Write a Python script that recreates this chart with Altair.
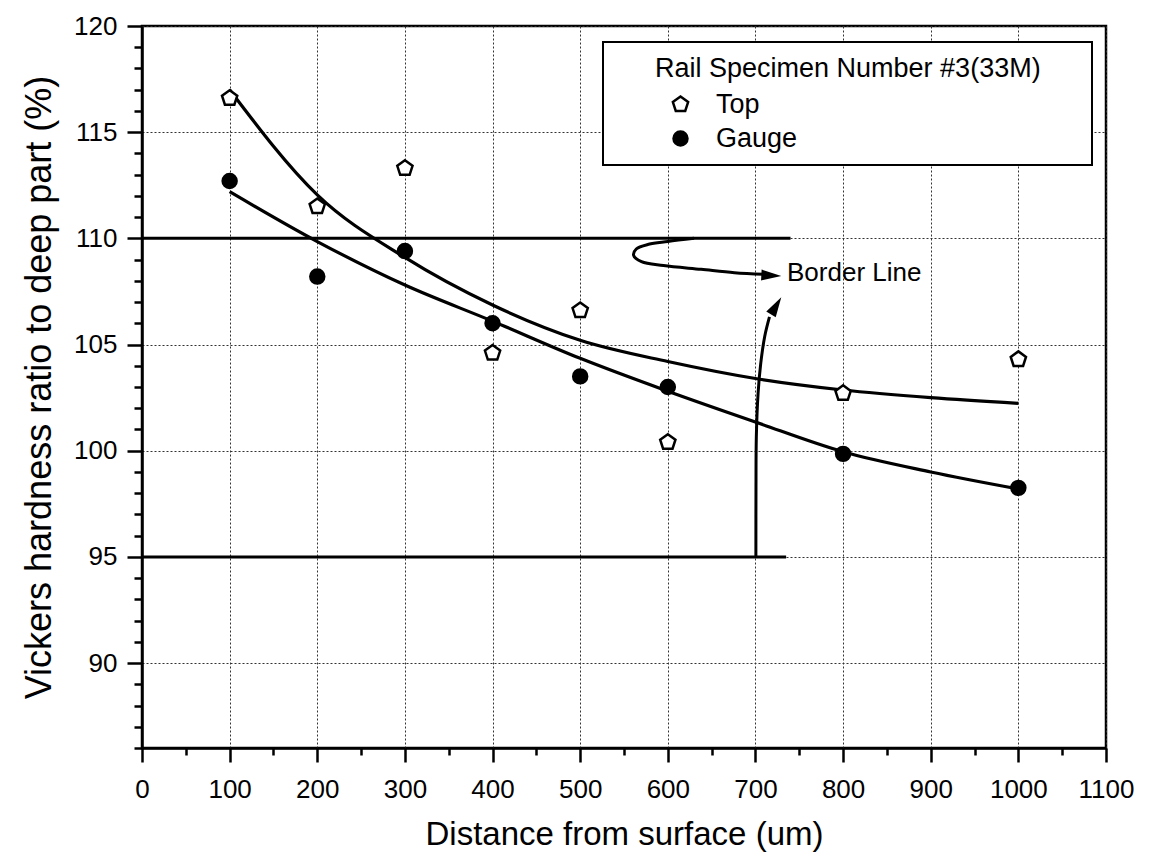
import altair as alt
import pandas as pd

# ---- data ----
depth = [100, 200, 300, 400, 500, 600, 800, 1000]
top_vals = [116.6, 111.5, 113.3, 104.6, 106.6, 100.4, 102.7, 104.3]
gauge_vals = [112.7, 108.2, 109.4, 106.0, 103.5, 103.0, 99.85, 98.25]

fit_x = [100, 200, 300, 400, 500, 600, 700, 800, 900, 1000]
top_fit = [117.0, 112.05, 109.1, 106.86, 105.2, 104.2, 103.4, 102.86, 102.5, 102.23]
gauge_fit = [112.2, 109.85, 107.8, 106.1, 104.35, 102.8, 101.35, 99.95, 99.0, 98.2]

border_levels = [110, 95]
border_end = [740, 735]

loop_x = [630, 600, 578, 564, 561, 570, 595, 638, 676, 712]
loop_y = [110, 109.85, 109.72, 109.5, 109.2, 108.9, 108.72, 108.54, 108.38, 108.3]
rise_x = [700.5, 700.6, 701, 703, 706, 710.5, 716]
rise_y = [95, 98.3, 100.66, 102.7, 104.1, 105.37, 106.3]
head_x = [718.1, 723.6]
head_y = [108.25, 106.82]
head_angle = [3, 301]

note_text = ["Border Line"]
note_x = [736]
note_y = [108.35]

series_names = ["Top", "Gauge"]
legend_title = "Rail Specimen Number #3(33M)"

FONT = "Liberation Sans"
PENTAGON = "M0,-1.15L1.094,-0.355L0.676,0.93L-0.676,0.93L-1.094,-0.355Z"
ARROW = "M1,0L-1,-0.55L-1,0.55Z"

# ---- tables ----
pts = pd.DataFrame({
    "x": depth * 2,
    "y": top_vals + gauge_vals,
    "series": ["Top"] * len(depth) + ["Gauge"] * len(depth),
})
fits = pd.DataFrame({
    "x": fit_x * 2,
    "y": top_fit + gauge_fit,
    "series": ["Top"] * len(fit_x) + ["Gauge"] * len(fit_x),
})
borders = pd.DataFrame({"x": [0, 0], "x2": border_end, "y": border_levels})
loop = pd.DataFrame({"x": loop_x, "y": loop_y, "o": list(range(len(loop_x)))})
rise = pd.DataFrame({"x": rise_x, "y": rise_y, "o": list(range(len(rise_x)))})
heads = pd.DataFrame({"x": head_x, "y": head_y, "a": head_angle})
notes = pd.DataFrame({"x": note_x, "y": note_y, "t": note_text})

xs = alt.Scale(domain=[0, 1100], nice=False, zero=False)
ys = alt.Scale(domain=[86, 120], nice=False, zero=False)

x_axis = alt.Axis(
    values=list(range(0, 1101, 50)),
    format="d",
    labelExpr="datum.value % 100 == 0 ? datum.label : ''",
    labelOverlap=False,
    labelFlush=False,
    labelFontSize=26,
    tickSize={"condition": {"test": "datum.value % 100 == 0", "value": 14}, "value": 7},
    gridOpacity={"condition": {"test": "datum.value % 100 == 0", "value": 1}, "value": 0},
    title="Distance from surface (um)",
    titleFontSize=33,
    labelPadding=14,
    titlePadding=16,
)
y_axis = alt.Axis(
    values=list(range(86, 121, 1)),
    format="d",
    labelExpr="datum.value % 5 == 0 ? datum.label : ''",
    labelOverlap=False,
    labelFlush=False,
    labelFontSize=26,
    tickSize={"condition": {"test": "datum.value % 5 == 0", "value": 15}, "value": 8},
    gridOpacity={"condition": {"test": "datum.value % 5 == 0", "value": 1}, "value": 0},
    title="Vickers hardness ratio to deep part (%)",
    titleFontSize=36,
    labelPadding=10,
    titlePadding=15,
)

base_x = alt.X("x:Q", scale=xs, axis=x_axis)
base_y = alt.Y("y:Q", scale=ys, axis=y_axis)

legend_box = alt.Chart(pd.DataFrame({"k": [0]})).mark_rect(
    fill="white", stroke="black", strokeWidth=2
).encode(
    x=alt.value(461), x2=alt.value(950), y=alt.value(16), y2=alt.value(139)
)

border_rules = alt.Chart(borders).mark_rule(color="black", strokeWidth=3).encode(
    x=base_x, x2="x2:Q", y=base_y
)

fit_lines = alt.Chart(fits).mark_line(
    color="black", strokeWidth=3.2, interpolate="monotone"
).encode(x=base_x, y=base_y, detail="series:N")

loop_line = alt.Chart(loop).mark_line(
    color="black", strokeWidth=3, interpolate="catmull-rom"
).encode(x=base_x, y=base_y, order="o:Q")

rise_line = alt.Chart(rise).mark_line(
    color="black", strokeWidth=3, interpolate="catmull-rom"
).encode(x=base_x, y=base_y, order="o:Q")

arrow_heads = alt.Chart(heads).mark_point(
    shape=ARROW, filled=True, color="black", size=400, opacity=1
).encode(x=base_x, y=base_y, angle=alt.Angle("a:Q", scale=None))

note = alt.Chart(notes).mark_text(
    align="left", baseline="middle", font=FONT, fontSize=26, color="black"
).encode(x=base_x, y=base_y, text="t:N")

leg = alt.Legend(title=legend_title)
points = alt.Chart(pts).mark_point(
    size=195, strokeWidth=2.5, opacity=1
).encode(
    x=base_x,
    y=base_y,
    shape=alt.Shape(
        "series:N",
        scale=alt.Scale(domain=series_names, range=[PENTAGON, "circle"]),
        legend=leg,
    ),
    fill=alt.Fill(
        "series:N",
        scale=alt.Scale(domain=series_names, range=["white", "black"]),
        legend=leg,
    ),
    stroke=alt.Stroke(
        "series:N",
        scale=alt.Scale(domain=series_names, range=["black", "black"]),
        legend=leg,
    ),
)

chart = alt.layer(
    legend_box, border_rules, fit_lines, loop_line, rise_line, arrow_heads, note, points
).properties(
    width=964, height=722,
    padding={"left": 13, "top": 5, "right": 5, "bottom": 5},
).configure_view(
    stroke="black", strokeWidth=2.5
).configure_axis(
    labelFont=FONT, titleFont=FONT, labelFontSize=26, labelColor="black",
    titleColor="black", titleFontWeight="normal",
    domainColor="black", domainWidth=2.5, tickColor="black", tickWidth=2.5,
    gridColor="#333333", gridWidth=1, gridDash=[2, 2],
).configure_legend(
    orient="none", legendX=513, legendY=30,
    titleFont=FONT, titleFontSize=27, titleFontWeight="normal", titleColor="black",
    labelFont=FONT, labelFontSize=27, labelColor="black",
    titleLimit=1000, titlePadding=8, rowPadding=6, labelOffset=22,
    symbolOffset=12, symbolSize=195, symbolStrokeWidth=2.5,
    padding=0,
)

chart.save("out.html", embed_options={"renderer": "svg", "actions": False})
